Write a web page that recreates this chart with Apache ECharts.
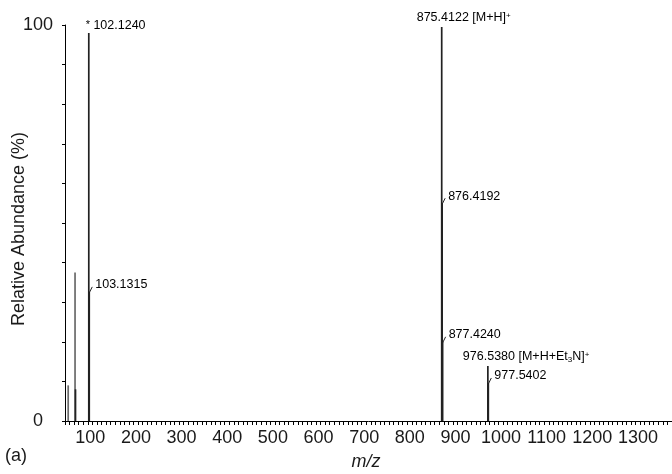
<!DOCTYPE html>
<html><head><meta charset="utf-8">
<script src="https://cdn.jsdelivr.net/npm/echarts@6/dist/echarts.min.js"></script>
<style>html,body{margin:0;padding:0;background:#fff}#c{width:672px;height:474px}</style>
</head><body><div id="c"></div>
<script>
// ---- data ----
const mzValues   = [57, 72, 73, 102.1240, 103.1315, 875.4122, 876.4192, 877.4240, 976.5380, 977.5402];
const abundance  = [9, 37.5, 8, 98, 32.6, 99.5, 55, 20, 13.9, 9.6];
const peakMasses = ['', '', '', '102.1240', '103.1315', '875.4122', '876.4192', '877.4240', '976.5380', '977.5402'];
const peakNotes  = ['', '', '', '*', '', '[M+H]+', '', '', '[M+H+Et3N]+', ''];
const xTickLabels = [100, 200, 300, 400, 500, 600, 700, 800, 900, 1000, 1100, 1200, 1300];
const yTickLabels = [0, 100];
const xTitle = 'm/z';
const yTitle = 'Relative Abundance (%)';
const panelTag = '(a)';

// ---- rendering helpers ----
const FONT = '"Liberation Sans", Arial, sans-serif';
const TXT = '#1a1a1a';
const noteRich = {
  '[M+H]+': '{m|[M+H]}{sup|+}',
  '[M+H+Et3N]+': '{m|[M+H+Et}{sub|3}{m|N]}{sup|+}'
};
const rich = {
  m: {fontSize: 12.5, fontFamily: FONT, color: TXT},
  sup: {fontSize: 8, fontFamily: FONT, color: TXT, verticalAlign: 'top'},
  sub: {fontSize: 8, fontFamily: FONT, color: TXT, verticalAlign: 'bottom'},
  star: {fontSize: 11, fontFamily: FONT, color: TXT, verticalAlign: 'top'}
};
const seriesData = mzValues.map((m, i) => [m, abundance[i], i]);

function renderItem(params, api) {
  const i = api.value(2);
  const top = api.coord([api.value(0), api.value(1)]);
  const base = api.coord([api.value(0), 0]);
  const faint = i < 2;
  const children = [{
    type: 'line',
    shape: {x1: base[0], y1: base[1], x2: top[0], y2: top[1]},
    style: {stroke: faint ? '#6a6a6a' : '#222', lineWidth: 1.7}
  }];
  const mass = peakMasses[i];
  const note = peakNotes[i];
  if (mass) {
    if (note === '*') {
      children.push({type: 'text', x: top[0] - 3, y: top[1] - 7,
        style: {text: '{star|*} {m|' + mass + '}', rich: rich, align: 'left', verticalAlign: 'middle'}});
    } else if (note) {
      children.push({type: 'text', x: top[0] - 25, y: top[1] - 9,
        style: {text: '{m|' + mass + ' }' + noteRich[note], rich: rich, align: 'left', verticalAlign: 'middle'}});
    } else {
      children.push({type: 'line',
        shape: {x1: top[0], y1: top[1] + 1, x2: top[0] + 3, y2: top[1] - 5},
        style: {stroke: '#222', lineWidth: 1}});
      children.push({type: 'text', x: top[0] + 6, y: top[1] - 7,
        style: {text: '{m|' + mass + '}', rich: rich, align: 'left', verticalAlign: 'middle'}});
    }
  }
  return {type: 'group', children: children};
}

const chart = echarts.init(document.getElementById('c'), null, {renderer: 'canvas'});
chart.setOption({
  animation: false,
  backgroundColor: '#fff',
  grid: {left: 65, right: 0, top: 25, bottom: 53, containLabel: false, outerBoundsMode: 'none'},
  xAxis: {
    type: 'value', min: 50, max: 1380, interval: 10,
    name: xTitle, nameLocation: 'middle', nameGap: 32, nameMoveOverlap: false,
    nameTextStyle: {fontSize: 18, fontStyle: 'italic', fontFamily: FONT, color: TXT, padding: [0, 5, 0, 0]},
    axisLine: {show: true, lineStyle: {color: '#000', width: 1}},
    axisTick: {show: true, length: 4, lineStyle: {color: '#000', width: 1}},
    axisLabel: {
      fontSize: 18, fontFamily: FONT, color: TXT, margin: 8, padding: [0, 0, 0, 5],
      formatter: v => xTickLabels.indexOf(Math.round(v)) >= 0 ? String(Math.round(v)) : ''
    },
    splitLine: {show: false}
  },
  yAxis: {
    type: 'value', min: 0, max: 100, interval: 10,
    name: yTitle, nameLocation: 'middle', nameGap: 37, nameRotate: 90, nameMoveOverlap: false,
    nameTextStyle: {fontSize: 18, fontFamily: FONT, color: TXT, padding: [0, 12, 0, 0]},
    axisLine: {show: true, lineStyle: {color: '#000', width: 1}},
    axisTick: {show: true, length: 3, lineStyle: {color: '#000', width: 1}},
    axisLabel: {
      fontSize: 18, fontFamily: FONT, color: TXT, margin: 12,
      formatter: v => {
        if (yTickLabels.indexOf(v) < 0) return '';
        return v === 0 ? '{z|0}' : String(v);
      },
      rich: {z: {fontSize: 18, fontFamily: FONT, color: TXT, padding: [0, 10, 0, 0]}}
    },
    splitLine: {show: false}
  },
  graphic: [{
    type: 'text', left: 5, top: 447,
    style: {text: panelTag, fontSize: 18, fontFamily: FONT, fill: TXT}
  }],
  series: [{
    type: 'custom',
    renderItem: renderItem,
    clip: false,
    encode: {x: 0, y: 1},
    data: seriesData
  }]
});
</script>
</body></html>
